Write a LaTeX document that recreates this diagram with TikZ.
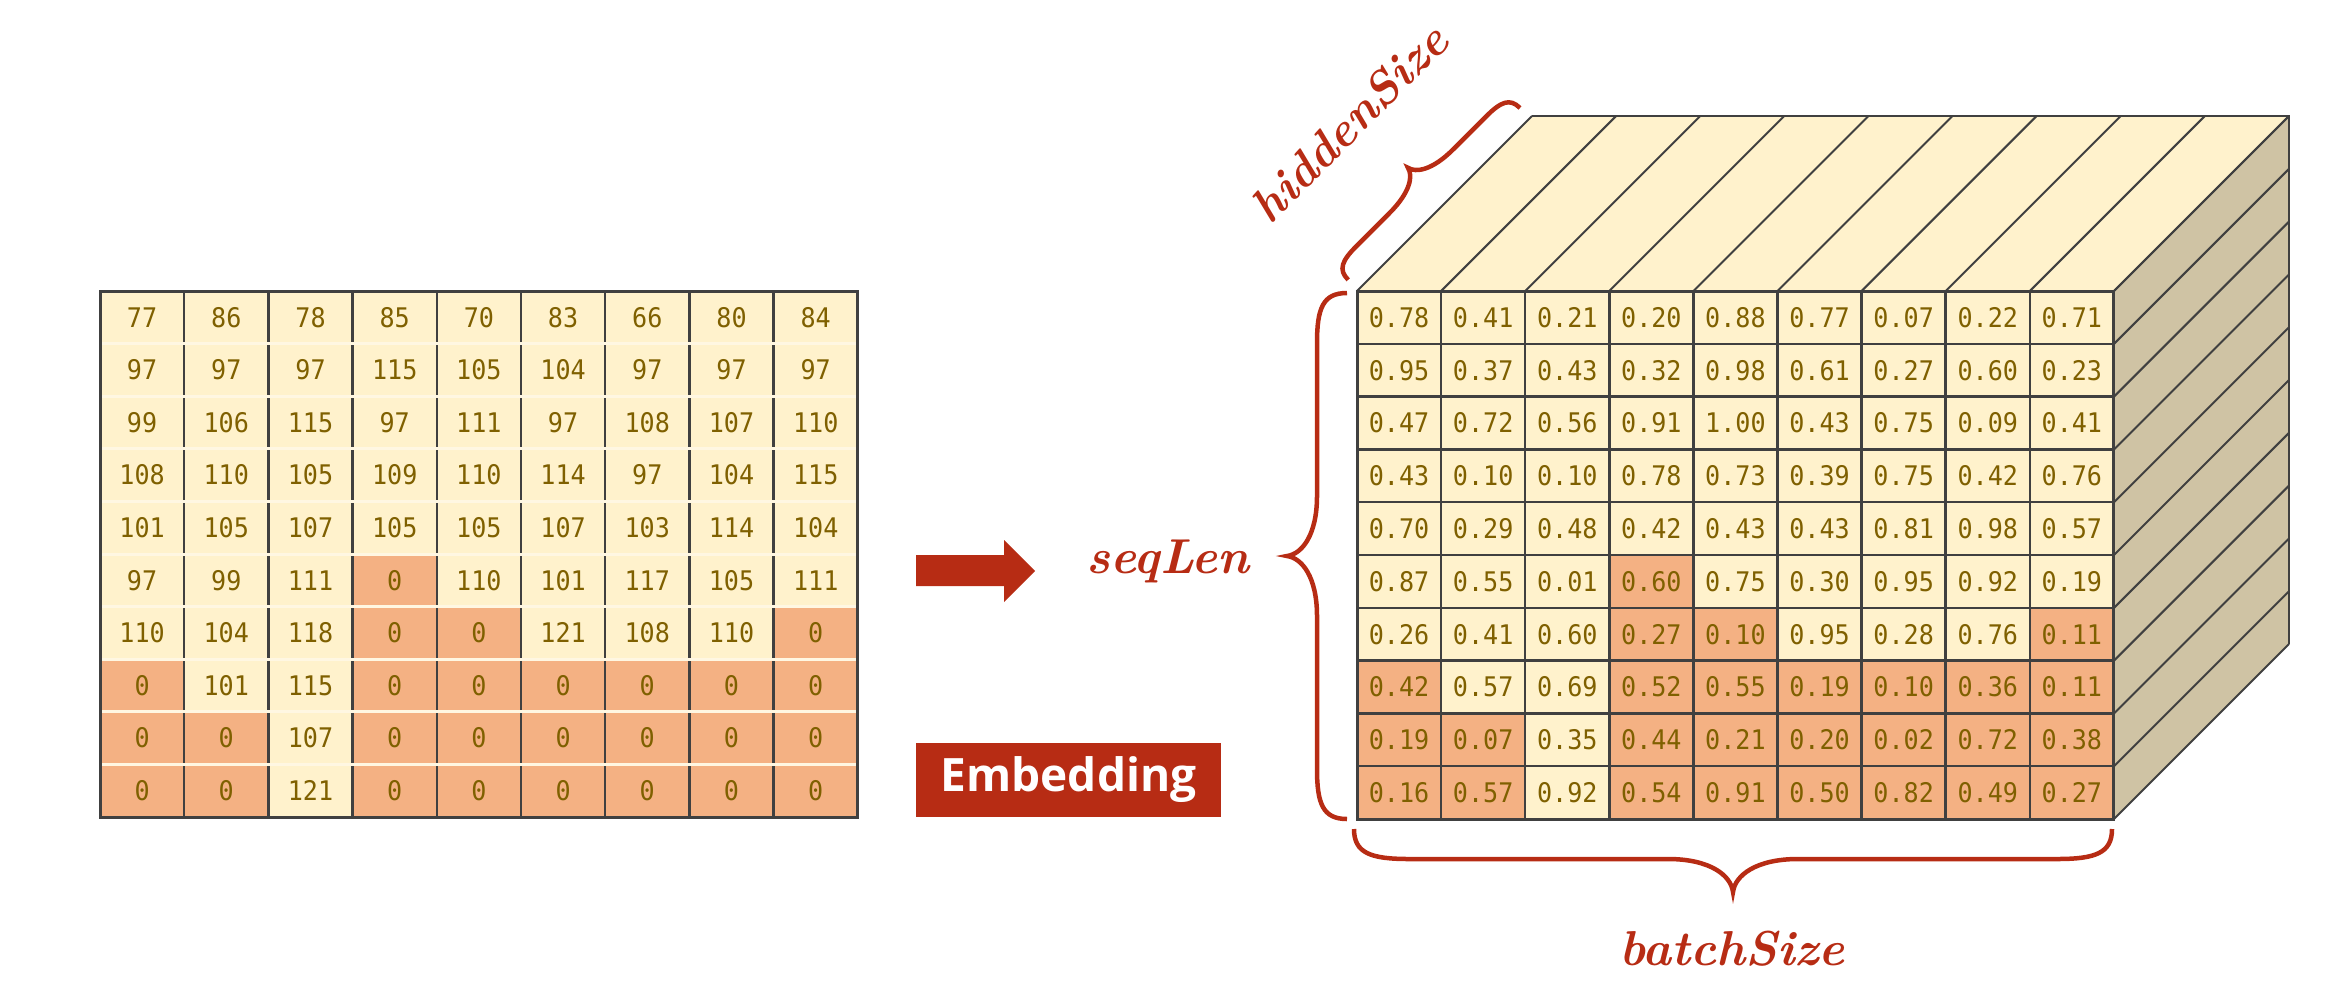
\documentclass[tikz,border=0pt]{standalone}
\usepackage{fontspec}
\newfontfamily\numfont{DejaVu Sans Mono}[FakeStretch=0.93]
\newfontfamily\embfont{Open Sans}
\definecolor{ccream}{HTML}{FFF2CC}
\definecolor{corange}{HTML}{F4B183}
\definecolor{cgold}{HTML}{7F6000}
\definecolor{cline}{HTML}{404040}
\definecolor{ctan}{HTML}{CFC3A4}
\definecolor{cred}{HTML}{B72C14}
\definecolor{clight}{HTML}{FFF7E2}
\tikzset{
  lcell/.style={anchor=north west, minimum width=84.2pt, minimum height=52.6pt, inner sep=0pt, outer sep=0pt, text=cgold, font={\numfont\fontsize{27}{30}\selectfont}},
  rcell/.style={anchor=north west, minimum width=84.1pt, minimum height=52.8pt, inner sep=0pt, outer sep=0pt, draw=cline, line width=2.5pt, text=cgold, font={\numfont\fontsize{27}{30}\selectfont}},
  cubeedge/.style={draw=cline, line width=2pt},
  bracelab/.style={text=cred, inner sep=0pt, font={\fontsize{49}{54}\selectfont\bfseries\itshape}},
  bracepath/.style={draw=cred, line width=4.5pt}
}
% #1 length, #2 stem offset, #3 tip offset, #4 end curl length, #5 tip curl length
\newcommand\drawcbrace[5]{%
  \draw[bracepath] (0,0) .. controls (0,{0.8*#2}) and ({0.3*#4},#2) .. (#4,#2)
    -- ({#1/2-#5},#2) .. controls ({#1/2-0.35*#5},#2) and ({#1/2-2},{#2+0.5*(#3-#2)}) .. ({#1/2},#3)
    .. controls ({#1/2+2},{#2+0.5*(#3-#2)}) and ({#1/2+0.35*#5},#2) .. ({#1/2+#5},#2)
    -- ({#1-#4},#2) .. controls ({#1-0.3*#4},#2) and (#1,{0.8*#2}) .. (#1,0);}
\begin{document}
\begin{tikzpicture}[x=1pt,y=-1pt]
\useasboundingbox (0,0) rectangle (2339,1005);
% ---------- left grid ----------
\foreach \row [count=\r] in {
  {77,86,78,85,70,83,66,80,84},
  {97,97,97,115,105,104,97,97,97},
  {99,106,115,97,111,97,108,107,110},
  {108,110,105,109,110,114,97,104,115},
  {101,105,107,105,105,107,103,114,104},
  {97,99,111,0,110,101,117,105,111},
  {110,104,118,0,0,121,108,110,0},
  {0,101,115,0,0,0,0,0,0},
  {0,0,107,0,0,0,0,0,0},
  {0,0,121,0,0,0,0,0,0}}{
  \foreach \v [count=\c] in \row {
    \ifnum\v=0 \def\cc{corange}\else\def\cc{ccream}\fi
    \node[lcell, fill=\cc] (L-\r-\c) at ({100+(\c-1)*84.2},{291+(\r-1)*52.6}) {\v};
  }
}
\foreach \i in {1,...,8}
  \draw[cline, line width=2.5pt] (L-1-\i.north east) -- (L-10-\i.south east);
\foreach \j in {1,...,9}
  \draw[clight, line width=3pt] (L-\j-1.south west) -- (L-\j-9.south east);
\draw[cline, line width=3pt] (L-1-1.north west) rectangle (L-10-9.south east);
% ---------- arrow ----------
\fill[cred] (916,555) -- (1004,555) -- (1004,540) -- (1035,571) -- (1004,602) -- (1004,586) -- (916,586) -- cycle;
% ---------- embedding label ----------
\node[fill=cred, text=white, minimum width=305pt, minimum height=74pt, inner sep=0pt,
      font={\embfont\bfseries\fontsize{46}{50}\selectfont}] (emb) at (1068.5,780) {Embedding};
% ---------- cube: top and side faces ----------
\fill[ccream] (1357,291) -- (2114,291) -- (2289,116) -- (1532,116) -- cycle;
\fill[ctan] (2114,291) -- (2289,116) -- (2289,644) -- (2114,819) -- cycle;
\foreach \i in {0,...,9}
  \draw[cubeedge] ({1357+\i*84.1},291) -- ++(175,-175);
\foreach \j in {0,...,10}
  \draw[cubeedge] (2114,{291+\j*52.8}) -- ++(175,-175);
\draw[cline, line width=2.5pt] (1532,116) -- (2289,116) -- (2289,644);
% ---------- cube: front grid ----------
\foreach \row [count=\r] in {
  {0.78/0,0.41/0,0.21/0,0.20/0,0.88/0,0.77/0,0.07/0,0.22/0,0.71/0},
  {0.95/0,0.37/0,0.43/0,0.32/0,0.98/0,0.61/0,0.27/0,0.60/0,0.23/0},
  {0.47/0,0.72/0,0.56/0,0.91/0,1.00/0,0.43/0,0.75/0,0.09/0,0.41/0},
  {0.43/0,0.10/0,0.10/0,0.78/0,0.73/0,0.39/0,0.75/0,0.42/0,0.76/0},
  {0.70/0,0.29/0,0.48/0,0.42/0,0.43/0,0.43/0,0.81/0,0.98/0,0.57/0},
  {0.87/0,0.55/0,0.01/0,0.60/1,0.75/0,0.30/0,0.95/0,0.92/0,0.19/0},
  {0.26/0,0.41/0,0.60/0,0.27/1,0.10/1,0.95/0,0.28/0,0.76/0,0.11/1},
  {0.42/1,0.57/0,0.69/0,0.52/1,0.55/1,0.19/1,0.10/1,0.36/1,0.11/1},
  {0.19/1,0.07/1,0.35/0,0.44/1,0.21/1,0.20/1,0.02/1,0.72/1,0.38/1},
  {0.16/1,0.57/1,0.92/0,0.54/1,0.91/1,0.50/1,0.82/1,0.49/1,0.27/1}}{
  \foreach \v/\f [count=\c] in \row {
    \ifnum\f=1 \def\cc{corange}\else\def\cc{ccream}\fi
    \node[rcell, fill=\cc] (R-\r-\c) at ({1357+(\c-1)*84.1},{291+(\r-1)*52.8}) {\v};
  }
}
\draw[cline, line width=3pt] (R-1-1.north west) rectangle (R-10-9.south east);
% ---------- braces ----------
\begin{scope}[shift={(1347,293)}, rotate=-90]
  \drawcbrace{526}{30}{60}{50}{60}
\end{scope}
\begin{scope}[shift={(1354,829)}]
  \drawcbrace{758}{30}{63}{55}{65}
\end{scope}
\begin{scope}[shift={(1520,108)}, rotate=225]
  \drawcbrace{243}{18}{37}{30}{45}
\end{scope}
% ---------- labels ----------
\node[bracelab] (seqlen) at (1168,561) {seqLen};
\node[bracelab] (batchsize) at (1732,949) {batchSize};
\node[bracelab, rotate=45, font={\fontsize{48}{54}\selectfont\bfseries\itshape}] (hiddensize) at (1349,123) {hiddenSize};
\end{tikzpicture}
\end{document}
